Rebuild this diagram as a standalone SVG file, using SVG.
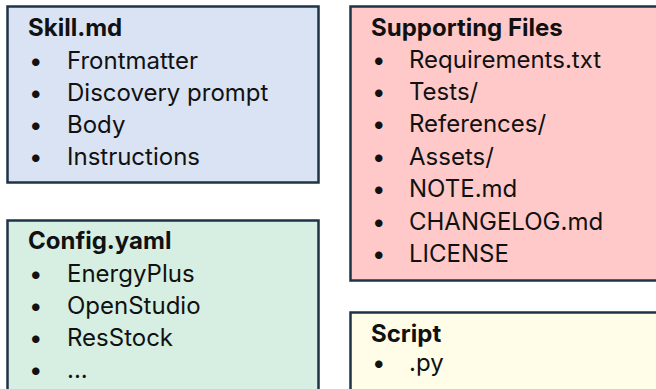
<svg xmlns="http://www.w3.org/2000/svg" width="656" height="389" viewBox="0 0 656 389">
<style>
.box{stroke:#1f3346;stroke-width:2.5}
.t{font-family:Inter,"Open Sans","Liberation Sans",sans-serif;font-size:24px;fill:#111}
.h{font-weight:bold;font-size:24px}
</style>
<rect width="656" height="389" fill="#ffffff"/>
<g id="skill">
<rect class="box" x="7.5" y="6.5" width="311" height="176" fill="#dae3f3"/>
<text class="t h" x="28" y="36">Skill.md</text>
<text class="t" x="29" y="69">•</text><text class="t" x="67" y="69">Frontmatter</text>
<text class="t" x="29" y="101">•</text><text class="t" x="67" y="101">Discovery prompt</text>
<text class="t" x="29" y="133">•</text><text class="t" x="67" y="133">Body</text>
<text class="t" x="29" y="165">•</text><text class="t" x="67" y="165">Instructions</text>
</g>
<g id="config">
<rect class="box" x="7.5" y="220.5" width="311" height="180" fill="#d6efe2"/>
<text class="t h" x="28" y="249">Config.yaml</text>
<text class="t" x="29" y="282">•</text><text class="t" x="67" y="282">EnergyPlus</text>
<text class="t" x="29" y="314">•</text><text class="t" x="67" y="314">OpenStudio</text>
<text class="t" x="29" y="346">•</text><text class="t" x="67" y="346">ResStock</text>
<text class="t" x="29" y="378">•</text><text class="t" x="67" y="378">...</text>
</g>
<g id="supporting">
<rect class="box" x="350.5" y="6.5" width="320" height="274" fill="#ffc9c9"/>
<text class="t h" x="371" y="36">Supporting Files</text>
<text class="t" x="372" y="68">•</text><text class="t" x="409" y="68">Requirements.txt</text>
<text class="t" x="372" y="100">•</text><text class="t" x="409" y="100">Tests/</text>
<text class="t" x="372" y="132">•</text><text class="t" x="409" y="132">References/</text>
<text class="t" x="372" y="165">•</text><text class="t" x="409" y="165">Assets/</text>
<text class="t" x="372" y="197">•</text><text class="t" x="409" y="197">NOTE.md</text>
<text class="t" x="372" y="230">•</text><text class="t" x="409" y="230">CHANGELOG.md</text>
<text class="t" x="372" y="262">•</text><text class="t" x="409" y="262">LICENSE</text>
</g>
<g id="script">
<rect class="box" x="350.5" y="312.5" width="320" height="90" fill="#fffde8"/>
<text class="t h" x="371" y="342">Script</text>
<text class="t" x="372" y="371">•</text><text class="t" x="409" y="371">.py</text>
</g>
<g id="connectors"/>
</svg>
